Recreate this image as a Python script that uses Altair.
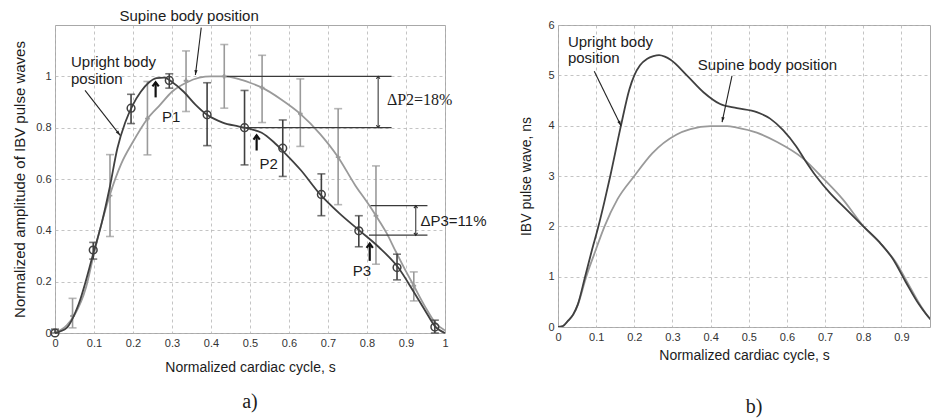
import math
import altair as alt
import pandas as pd

# ================= Panel a) normalized amplitude =================
a_up_curve_x = [0.00, 0.03, 0.06, 0.10, 0.12, 0.14, 0.16, 0.18, 0.20, 0.22, 0.24, 0.26, 0.28, 0.30,
                0.33, 0.36, 0.39, 0.43, 0.47, 0.50, 0.53, 0.56, 0.59, 0.63, 0.68, 0.73, 0.78, 0.83,
                0.88, 0.92, 0.95, 0.975, 1.00]
a_up_curve_y = [0.00, 0.02, 0.11, 0.32, 0.43, 0.565, 0.72, 0.82, 0.89, 0.94, 0.975, 0.993, 0.995, 0.978,
                0.94, 0.89, 0.85, 0.82, 0.805, 0.795, 0.78, 0.745, 0.70, 0.635, 0.54, 0.465, 0.40, 0.335,
                0.255, 0.16, 0.085, 0.025, 0.00]

a_sup_curve_x = [0.00, 0.03, 0.05, 0.08, 0.10, 0.12, 0.14, 0.17, 0.20, 0.237, 0.27, 0.30, 0.336, 0.37,
                 0.40, 0.434, 0.47, 0.50, 0.531, 0.58, 0.629, 0.68, 0.726, 0.77, 0.80, 0.823, 0.85,
                 0.873, 0.90, 0.92, 0.95, 0.975, 1.00]
a_sup_curve_y = [0.00, 0.03, 0.07, 0.18, 0.31, 0.43, 0.535, 0.66, 0.745, 0.835, 0.89, 0.94, 0.975, 0.995,
                 1.00, 1.00, 0.99, 0.975, 0.956, 0.91, 0.854, 0.775, 0.685, 0.575, 0.51, 0.457, 0.39,
                 0.32, 0.24, 0.184, 0.10, 0.04, 0.01]

# measured points with error bars (upright: circles, supine: crosses)
a_up_pt_x = [0.00, 0.098, 0.195, 0.293, 0.39, 0.486, 0.584, 0.683, 0.779, 0.877, 0.974]
a_up_pt_y = [0.00, 0.323, 0.876, 0.984, 0.85, 0.80, 0.72, 0.54, 0.398, 0.255, 0.023]
a_up_pt_lo = [0.00, 0.288, 0.816, 0.954, 0.73, 0.655, 0.61, 0.457, 0.336, 0.207, 0.00]
a_up_pt_hi = [0.015, 0.353, 0.93, 1.01, 0.975, 0.945, 0.83, 0.62, 0.457, 0.307, 0.05]

a_sup_pt_x = [0.045, 0.141, 0.237, 0.336, 0.434, 0.531, 0.629, 0.726, 0.823, 0.92]
a_sup_pt_y = [0.066, 0.535, 0.835, 0.983, 1.00, 0.956, 0.854, 0.685, 0.457, 0.184]
a_sup_pt_lo = [0.02, 0.376, 0.694, 0.863, 0.876, 0.82, 0.727, 0.50, 0.268, 0.125]
a_sup_pt_hi = [0.135, 0.695, 0.98, 1.099, 1.124, 1.082, 0.99, 0.874, 0.651, 0.238]

a_xticks = [0, 0.1, 0.2, 0.3, 0.4, 0.5, 0.6, 0.7, 0.8, 0.9, 1]
a_yticks = [0, 0.2, 0.4, 0.6, 0.8, 1]

# annotations of panel a (data coordinates)
a_label_text = ["Supine body position", "Upright body", "position"]
a_label_x = [0.344, 0.041, 0.041]
a_label_y = [1.234, 1.055, 0.988]
a_label_align = ["center", "left", "left"]

a_thin_arrow_x1 = [0.375, 0.077]
a_thin_arrow_y1 = [1.19, 0.945]
a_thin_arrow_x2 = [0.36, 0.167]
a_thin_arrow_y2 = [1.005, 0.77]

a_p_text = ["P1", "P2", "P3"]
a_p_text_x = [0.298, 0.548, 0.787]
a_p_text_y = [0.84, 0.66, 0.242]
a_p_arrow_x = [0.258, 0.517, 0.807]
a_p_arrow_y1 = [0.918, 0.711, 0.281]
a_p_arrow_y2 = [0.977, 0.77, 0.348]

a_level_x1 = [0.44, 0.49, 0.809, 0.805]
a_level_x2 = [0.863, 0.863, 0.955, 0.955]
a_level_y = [1.0, 0.8, 0.496, 0.381]

a_delta_x = [0.8286, 0.925]
a_delta_top = [1.0, 0.496]
a_delta_bot = [0.8, 0.381]
a_delta_text = ["\u0394P2=18%", "\u0394P3=11%"]
a_delta_text_x = [0.851, 0.937]
a_delta_text_y = [0.906, 0.4375]
a_delta_font = ["Liberation Serif", "Liberation Sans"]
a_delta_size = [16, 15]

# ================= Panel b) IBV pulse wave, ns =================
b_up_x = [0.00, 0.013, 0.026, 0.04, 0.052, 0.071, 0.088, 0.106, 0.122, 0.137, 0.165, 0.187, 0.20,
          0.215, 0.234, 0.25, 0.265, 0.28, 0.295, 0.339, 0.382, 0.425, 0.469, 0.521, 0.556, 0.59,
          0.625, 0.647, 0.677, 0.712, 0.755, 0.803, 0.842, 0.877, 0.911, 0.946, 0.981, 1.00]
b_up_y = [0.00, 0.02, 0.12, 0.25, 0.45, 1.00, 1.50, 2.00, 2.50, 3.00, 4.00, 4.72, 5.00,
          5.20, 5.33, 5.38, 5.40, 5.37, 5.31, 4.99, 4.66, 4.43, 4.35, 4.27, 4.14, 3.91,
          3.58, 3.32, 2.99, 2.67, 2.34, 1.98, 1.69, 1.36, 0.90, 0.45, 0.12, 0.03]

b_sup_x = [0.00, 0.013, 0.026, 0.04, 0.052, 0.074, 0.097, 0.122, 0.156, 0.20, 0.247, 0.31,
           0.347, 0.40, 0.443, 0.469, 0.521, 0.573, 0.642, 0.694, 0.746, 0.803, 0.85, 0.885,
           0.919, 0.954, 0.99, 1.00]
b_sup_y = [0.00, 0.02, 0.12, 0.25, 0.44, 1.00, 1.49, 2.00, 2.54, 3.00, 3.45, 3.82,
           3.93, 3.99, 3.99, 3.96, 3.86, 3.68, 3.35, 2.96, 2.54, 1.98, 1.62, 1.29,
           0.84, 0.38, 0.05, 0.02]

b_xticks = [0, 0.1, 0.2, 0.3, 0.4, 0.5, 0.6, 0.7, 0.8, 0.9]
b_yticks = [0, 1, 2, 3, 4, 5, 6]

b_label_text = ["Upright body", "position", "Supine body position"]
b_label_x = [0.026, 0.026, 0.549]
b_label_y = [5.67, 5.35, 5.20]
b_label_align = ["left", "left", "center"]

b_arrow_x1 = [0.095, 0.456]
b_arrow_y1 = [5.08, 4.99]
b_arrow_x2 = [0.165, 0.43]
b_arrow_y2 = [4.00, 4.07]

# ================= styling =================
DARK = "#404040"
GRAY = "#9a9a9a"
INK = "#1c1c1c"
SANS = "Liberation Sans"
SERIF = "Liberation Serif"

A_W, A_H = 390, 308
B_W, B_H = 372, 302
A_XMAX, A_YMAX = 1.0, 1.2
B_XMAX, B_YMAX = 0.975, 6.0

HEAD = "M0,0 L0.32,1 L-0.32,1 Z"          # filled arrow head, tip at origin, pointing up
CHEVRON = "M-0.6,0.8 L0,0 L0.6,0.8"        # open arrow head, tip at origin, pointing up


def head_angle(x1, y1, x2, y2, sx, sy):
    dx = (x2 - x1) * sx
    dy = -(y2 - y1) * sy
    return math.degrees(math.atan2(dx, -dy)) % 360


def axis(values, title, lpad, tpad, tsize):
    return alt.Axis(values=values, format="~g", title=title, grid=True, gridDash=[3, 3],
                    gridColor="#b5b5b5", gridWidth=0.8, ticks=False, domain=False,
                    labelPadding=lpad, titlePadding=tpad, labelFontSize=11, titleFontSize=tsize,
                    labelFont=SANS, titleFont=SANS, labelColor="#333333", titleColor=INK,
                    titleFontWeight="normal", labelFlush=False)


def build_panel(xmax, ymax, w, h, xaxis, yaxis, layers_fn):
    sx = alt.Scale(domain=[0, xmax], nice=False, zero=False)
    sy = alt.Scale(domain=[0, ymax], nice=False, zero=False)

    def X(f):
        return alt.X(f"{f}:Q", scale=sx, axis=xaxis)

    def Y(f):
        return alt.Y(f"{f}:Q", scale=sy, axis=yaxis)

    return layers_fn(X, Y, w / xmax, h / ymax)


# ---------------- panel a layers ----------------
def layers_a(X, Y, pxx, pxy):
    up_curve = pd.DataFrame({"x": a_up_curve_x, "y": a_up_curve_y})
    sup_curve = pd.DataFrame({"x": a_sup_curve_x, "y": a_sup_curve_y})
    up_pts = pd.DataFrame({"x": a_up_pt_x, "y": a_up_pt_y, "lo": a_up_pt_lo, "hi": a_up_pt_hi})
    sup_pts = pd.DataFrame({"x": a_sup_pt_x, "y": a_sup_pt_y, "lo": a_sup_pt_lo, "hi": a_sup_pt_hi})

    layers = []
    layers.append(alt.Chart(sup_curve).mark_line(color=GRAY, strokeWidth=1.8, interpolate="monotone")
                  .encode(x=X("x"), y=Y("y")))
    # supine error bars
    layers.append(alt.Chart(sup_pts).mark_rule(color=GRAY, strokeWidth=1.6)
                  .encode(x=X("x"), y=Y("lo"), y2="hi:Q"))
    for f in ("lo", "hi"):
        layers.append(alt.Chart(sup_pts).mark_point(shape="stroke", size=64, color=GRAY, strokeWidth=1.6)
                      .encode(x=X("x"), y=Y(f)))
    layers.append(alt.Chart(sup_pts).mark_point(shape="cross", size=22, filled=True, color=GRAY, opacity=1)
                  .encode(x=X("x"), y=Y("y")))
    # upright curve and points
    layers.append(alt.Chart(up_curve).mark_line(color=DARK, strokeWidth=1.8, interpolate="monotone")
                  .encode(x=X("x"), y=Y("y")))
    layers.append(alt.Chart(up_pts).mark_rule(color=DARK, strokeWidth=1.6)
                  .encode(x=X("x"), y=Y("lo"), y2="hi:Q"))
    for f in ("lo", "hi"):
        layers.append(alt.Chart(up_pts).mark_point(shape="stroke", size=64, color=DARK, strokeWidth=1.6)
                      .encode(x=X("x"), y=Y(f)))
    layers.append(alt.Chart(up_pts).mark_point(shape="circle", size=60, filled=False, color=DARK,
                                               strokeWidth=1.5, opacity=1)
                  .encode(x=X("x"), y=Y("y")))

    # level lines for delta P
    lev = pd.DataFrame({"x": a_level_x1, "x2": a_level_x2, "y": a_level_y})
    layers.append(alt.Chart(lev).mark_rule(color="#3a3a3a", strokeWidth=1.3)
                  .encode(x=X("x"), x2="x2:Q", y=Y("y")))
    dl = pd.DataFrame({"x": a_delta_x, "y": a_delta_top, "y2": a_delta_bot})
    layers.append(alt.Chart(dl).mark_rule(color="#3a3a3a", strokeWidth=1.1)
                  .encode(x=X("x"), y=Y("y"), y2="y2:Q"))
    heads = pd.DataFrame({
        "x": a_delta_x + a_delta_x,
        "y": a_delta_top + a_delta_bot,
        "ang": [0.0] * len(a_delta_x) + [180.0] * len(a_delta_x),
    })
    layers.append(alt.Chart(heads).mark_point(shape=CHEVRON, size=36, filled=False, color="#2a2a2a",
                                              strokeWidth=1.1, opacity=1)
                  .encode(x=X("x"), y=Y("y"), angle=alt.Angle("ang:Q", scale=None)))

    # thin label arrows
    ta = pd.DataFrame({"x": a_thin_arrow_x1, "y": a_thin_arrow_y1,
                       "x2": a_thin_arrow_x2, "y2": a_thin_arrow_y2})
    layers.append(alt.Chart(ta).mark_rule(color="#222222", strokeWidth=1.1)
                  .encode(x=X("x"), y=Y("y"), x2="x2:Q", y2="y2:Q"))
    ta_heads = pd.DataFrame({
        "x": a_thin_arrow_x2, "y": a_thin_arrow_y2,
        "ang": [head_angle(a, b, c, d, pxx, pxy) for a, b, c, d in
                zip(a_thin_arrow_x1, a_thin_arrow_y1, a_thin_arrow_x2, a_thin_arrow_y2)],
    })
    layers.append(alt.Chart(ta_heads).mark_point(shape=HEAD, size=100, filled=True, color="#222222",
                                                 opacity=1)
                  .encode(x=X("x"), y=Y("y"), angle=alt.Angle("ang:Q", scale=None)))

    # P1..P3 thick arrows
    pa = pd.DataFrame({"x": a_p_arrow_x, "y": a_p_arrow_y1, "y2": a_p_arrow_y2})
    layers.append(alt.Chart(pa).mark_rule(color="#111111", strokeWidth=2.2)
                  .encode(x=X("x"), y=Y("y"), y2="y2:Q"))
    pa_heads = pd.DataFrame({"x": a_p_arrow_x, "y": a_p_arrow_y2, "ang": [0.0] * len(a_p_arrow_x)})
    layers.append(alt.Chart(pa_heads).mark_point(shape=CHEVRON, size=110, filled=False, color="#111111",
                                                 strokeWidth=2.2, opacity=1)
                  .encode(x=X("x"), y=Y("y"), angle=alt.Angle("ang:Q", scale=None)))

    # texts
    for al in ("left", "center"):
        sub = pd.DataFrame({"x": a_label_x, "y": a_label_y, "t": a_label_text, "al": a_label_align})
        sub = sub[sub["al"] == al]
        layers.append(alt.Chart(sub).mark_text(align=al, baseline="middle", font=SANS, fontSize=15,
                                               color=INK)
                      .encode(x=X("x"), y=Y("y"), text="t:N"))
    pt = pd.DataFrame({"x": a_p_text_x, "y": a_p_text_y, "t": a_p_text})
    layers.append(alt.Chart(pt).mark_text(align="center", baseline="middle", font=SANS, fontSize=15,
                                          color=INK)
                  .encode(x=X("x"), y=Y("y"), text="t:N"))
    for i in range(len(a_delta_text)):
        dt = pd.DataFrame({"x": [a_delta_text_x[i]], "y": [a_delta_text_y[i]], "t": [a_delta_text[i]]})
        layers.append(alt.Chart(dt).mark_text(align="left", baseline="middle", font=a_delta_font[i],
                                              fontSize=a_delta_size[i], color=INK)
                      .encode(x=X("x"), y=Y("y"), text="t:N"))
    return alt.layer(*layers)


# ---------------- panel b layers ----------------
def layers_b(X, Y, pxx, pxy):
    up = pd.DataFrame({"x": b_up_x, "y": b_up_y})
    sup = pd.DataFrame({"x": b_sup_x, "y": b_sup_y})
    layers = []
    layers.append(alt.Chart(sup).mark_line(color=GRAY, strokeWidth=1.8, interpolate="monotone", clip=True)
                  .encode(x=X("x"), y=Y("y")))
    layers.append(alt.Chart(up).mark_line(color=DARK, strokeWidth=1.8, interpolate="monotone", clip=True)
                  .encode(x=X("x"), y=Y("y")))
    ar = pd.DataFrame({"x": b_arrow_x1, "y": b_arrow_y1, "x2": b_arrow_x2, "y2": b_arrow_y2})
    layers.append(alt.Chart(ar).mark_rule(color="#222222", strokeWidth=1.1)
                  .encode(x=X("x"), y=Y("y"), x2="x2:Q", y2="y2:Q"))
    hd = pd.DataFrame({
        "x": b_arrow_x2, "y": b_arrow_y2,
        "ang": [head_angle(a, b, c, d, pxx, pxy) for a, b, c, d in
                zip(b_arrow_x1, b_arrow_y1, b_arrow_x2, b_arrow_y2)],
    })
    layers.append(alt.Chart(hd).mark_point(shape=HEAD, size=100, filled=True, color="#222222", opacity=1)
                  .encode(x=X("x"), y=Y("y"), angle=alt.Angle("ang:Q", scale=None)))
    for al in ("left", "center"):
        sub = pd.DataFrame({"x": b_label_x, "y": b_label_y, "t": b_label_text, "al": b_label_align})
        sub = sub[sub["al"] == al]
        layers.append(alt.Chart(sub).mark_text(align=al, baseline="middle", font=SANS, fontSize=15,
                                               color=INK)
                      .encode(x=X("x"), y=Y("y"), text="t:N"))
    return alt.layer(*layers)


panel_a = build_panel(
    A_XMAX, A_YMAX, A_W, A_H,
    axis(a_xticks, "Normalized cardiac cycle, s", 4, 12, 14),
    axis(a_yticks, "Normalized amplitude of IBV pulse waves", 4, 8, 15),
    layers_a,
).properties(
    width=A_W, height=A_H,
    title=alt.TitleParams("a)", orient="bottom", font=SERIF, fontSize=20, fontWeight="normal",
                          color=INK, offset=18),
)

panel_b = build_panel(
    B_XMAX, B_YMAX, B_W, B_H,
    axis(b_xticks, "Normalized cardiac cycle, s", 4, 6, 14),
    axis(b_yticks, "IBV pulse wave, ns", 4, 14, 14),
    layers_b,
).properties(
    width=B_W, height=B_H,
    title=alt.TitleParams("b)", orient="bottom", font=SERIF, fontSize=20, fontWeight="normal",
                          color=INK, offset=35, anchor="middle", dx=10),
)

chart = alt.hconcat(panel_a, panel_b, spacing=113, bounds="flush").properties(
    padding={"left": 4, "top": 0, "right": 0, "bottom": 2},
    background="white",
).configure_view(stroke="#a8a8a8", strokeWidth=1)

chart.save("out.html", embed_options={"renderer": "svg", "actions": False})
